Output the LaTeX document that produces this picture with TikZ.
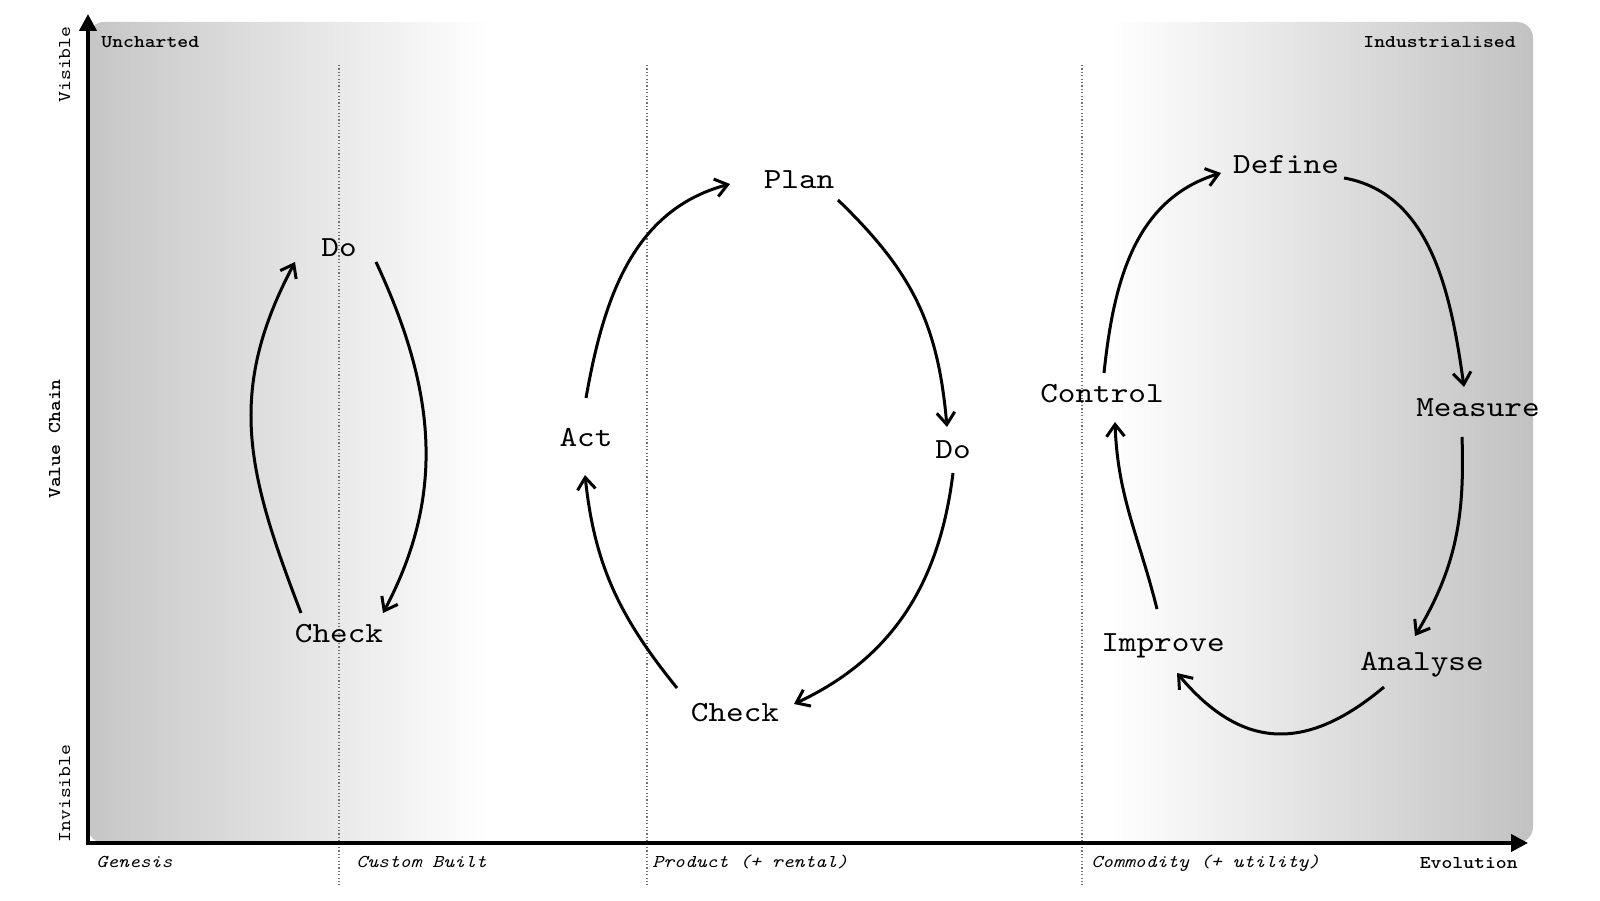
\documentclass[tikz,border=0pt]{standalone}
\usepackage{fontspec}
\setmonofont{lmmono10-regular.otf}[BoldFont=lmmonolt10-bold.otf, ItalicFont=lmmono10-italic.otf, FakeStretch=1.15]
\usepackage{tikz}
\usetikzlibrary{arrows.meta}
\pgfdeclarehorizontalshading{evolution}{100bp}{color(0bp)=(gray!45); color(25bp)=(gray!45); color(39bp)=(white); color(60.4bp)=(white); color(75bp)=(gray!48); color(100bp)=(gray!48)}
\tikzset{
	stage/.style={
		font=\fontsize{14.6}{17}\selectfont\ttfamily,
		inner sep=0pt,
		anchor=base
	},
	phase/.style={
		font=\fontsize{9}{11}\selectfont\ttfamily\itshape,
		inner sep=0pt,
		anchor=base west
	},
	corner/.style={
		font=\fontsize{9}{11}\selectfont\ttfamily\bfseries,
		inner sep=0pt
	}
}

\begin{document}
\begin{tikzpicture}[x=0.5pt, y=0.5pt]
	\tikzset{flow/.style={-{Straight Barb[length=6pt,width=9pt]}, line width=1.5pt}}
	\tikzset{axis/.style={{Triangle[length=8.5pt,width=8.5pt]}-{Triangle[length=8.5pt,width=8.5pt]}, line width=2pt}}
	\tikzset{divider/.style={black!55, line width=0.6pt, dash pattern=on 0.6pt off 1.1pt}}
	\useasboundingbox (0,0) rectangle (1600,900);
	
	\shade[shading=evolution, rounded corners=8pt] (88,57) rectangle (1533,878);
	\foreach \px in {339, 647, 1082}
		\draw[divider] (\px,835) -- (\px,15);
	
	\coordinate (origin) at (88,57);
	\coordinate (visible) at (88,886);
	\coordinate (evolved) at (1528,57);
	\draw[axis] (visible) -- (origin) -- (evolved);
	
	\node(uncharted) at (101,852) [corner, anchor=base west] {Uncharted};
	\node(industrialised) at (1516,852) [corner, anchor=base east] {Industrialised};
	\node(evolution) at (1518,32) [corner, anchor=base east] {Evolution};
	\node(valuechain) at (60,461) [corner, rotate=90, anchor=base] {Value Chain};
	\node(visiblelabel) at (70,835.5) [phase, rotate=90, anchor=base, font=\fontsize{9}{11}\selectfont\ttfamily] {Visible};
	\node(invisiblelabel) at (70,106.5) [phase, rotate=90, anchor=base, font=\fontsize{9}{11}\selectfont\ttfamily] {Invisible};
	
	\node(genesis) at (96,33) [phase] {Genesis};
	\node(custom) at (356,33) [phase] {Custom Built};
	\node(product) at (652,33) [phase] {Product (+ rental)};
	\node(commodity) at (1091,33) [phase] {Commodity (+ utility)};
	
	% genesis: do / check
	\node(do1) at (339,643) [stage] {Do};
	\node(check1) at (339,257) [stage] {Check};
	\draw[flow] ([shift={(-38,30)}]check1.base) to[out=111, in=242, looseness=1.08] ([shift={(-44,-5)}]do1.base);
	\draw[flow] ([shift={(37,-5)}]do1.base) to[out=295, in=62] ([shift={(44,30)}]check1.base);
	
	% product: plan do check act
	\node(plan) at (799,711) [stage] {Plan};
	\node(do2) at (953,441) [stage] {Do};
	\node(check2) at (735,179) [stage] {Check};
	\node(act) at (586,453) [stage] {Act};
	\draw[flow] ([shift={(0,49)}]act.base) to[out=80, in=195] ([shift={(-69,5)}]plan.base);
	\draw[flow] ([shift={(39,-11)}]plan.base) to[out=-44, in=95, looseness=1.05] ([shift={(-6,32)}]do2.base);
	\draw[flow] ([shift={(0,-14)}]do2.base) to[out=263, in=25] ([shift={(59,17)}]check2.base);
	\draw[flow] ([shift={(-58,33)}]check2.base) to[out=129, in=276] ([shift={(-1,-28)}]act.base);
	
	% commodity: six sigma
	\node(define) at (1286,726) [stage] {Define};
	\node(measure) at (1478,483) [stage] {Measure};
	\node(analyse) at (1422,230) [stage] {Analyse};
	\node(improve) at (1163,249) [stage] {Improve};
	\node(control) at (1102,497) [stage] {Control};
	\draw[flow] ([shift={(2,30)}]control.base) to[out=84, in=197] ([shift={(-65,1)}]define.base);
	\draw[flow] ([shift={(58,-4)}]define.base) to[out=-10, in=98, looseness=0.95] ([shift={(-14,30)}]measure.base);
	\draw[flow] ([shift={(-16,-20)}]measure.base) to[out=-88, in=59] ([shift={(-7,34)}]analyse.base);
	\draw[flow] ([shift={(-38,-17)}]analyse.base) to[out=220, in=310, looseness=1.25] ([shift={(14,-22)}]improve.base);
	\draw[flow] ([shift={(-6,42)}]improve.base) to[out=104, in=272] ([shift={(13,-19)}]control.base);
	
\end{tikzpicture}
\end{document}
